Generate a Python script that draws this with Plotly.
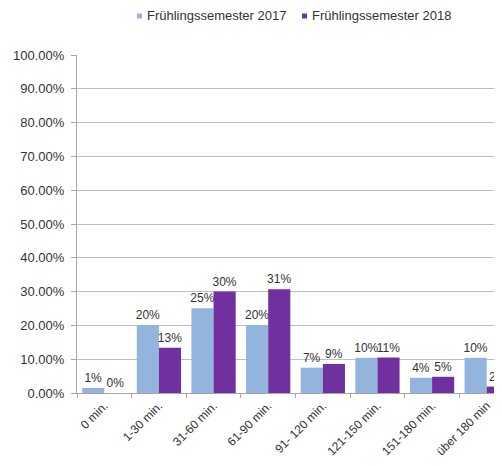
import plotly.graph_objects as go

categories = ["0 min.", "1-30 min.", "31-60 min.", "61-90 min.", "91- 120 min.",
              "121-150 min.", "151-180 min.", "über 180 min"]
values_2017 = [1.5, 20.1, 25.1, 20.1, 7.5, 10.4, 4.5, 10.4]
values_2018 = [0.0, 13.4, 30.0, 30.7, 8.6, 10.5, 4.8, 1.9]
labels_2017 = ["1%", "20%", "25%", "20%", "7%", "10%", "4%", "10%"]
labels_2018 = ["0%", "13%", "30%", "31%", "9%", "11%", "5%", "2%"]
series_names = ["Frühlingssemester 2017", "Frühlingssemester 2018"]
y_ticks = [0, 10, 20, 30, 40, 50, 60, 70, 80, 90, 100]
y_ticktext = ["0.00%", "10.00%", "20.00%", "30.00%", "40.00%", "50.00%",
              "60.00%", "70.00%", "80.00%", "90.00%", "100.00%"]

font_fam = "Liberation Sans, Arial, sans-serif"
txt_col = "#333333"
col_2017 = "#93b4dc"
col_2018 = "#7030a0"

# page body has an 8px margin: compensate
L, T, W, H = 69, 47, 502, 466
PW = 425
PH = 338
R = W - L - PW
B = H - T - PH

fig = go.Figure()
fig.add_trace(go.Bar(
    name=series_names[0], x=categories, y=values_2017,
    marker=dict(color=col_2017, line=dict(width=0)),
    text=labels_2017, textposition="outside", showlegend=False,
    textfont=dict(family=font_fam, size=12, color=txt_col),
))
fig.add_trace(go.Bar(
    name=series_names[1], x=categories, y=values_2018,
    marker=dict(color=col_2018, line=dict(width=0)),
    text=labels_2018, textposition="outside", showlegend=False,
    textfont=dict(family=font_fam, size=12, color=txt_col),
))

def px_x(p):
    return (p - L) / PW

def px_y(p):
    return 1 + (T - p) / PH

# manual legend (small square markers as in the reference)
legend_items = [(129, 137, col_2017, series_names[0]), (294, 302, col_2018, series_names[1])]
shapes = []
annotations = []
for mx, tx, col, name in legend_items:
    shapes.append(dict(type="rect", xref="paper", yref="paper",
                       x0=px_x(mx), x1=px_x(mx + 5), y0=px_y(10.5), y1=px_y(5.5),
                       fillcolor=col, line=dict(width=0)))
    annotations.append(dict(xref="paper", yref="paper", x=px_x(tx), y=px_y(8),
                            xanchor="left", yanchor="middle", showarrow=False,
                            text=name, font=dict(family=font_fam, size=13, color=txt_col)))

fig.update_layout(
    width=W, height=H,
    margin=dict(l=L, r=R, t=T, b=B, autoexpand=False),
    paper_bgcolor="white", plot_bgcolor="white",
    barmode="group", bargap=0.19, bargroupgap=0,
    font=dict(family=font_fam, size=12, color=txt_col),
    showlegend=False,
    shapes=shapes, annotations=annotations,
    uniformtext=dict(minsize=12, mode="show"),
)
fig.update_xaxes(
    range=[-0.5, 7.28], showgrid=False, showline=True, linecolor="#a6a6a6", linewidth=1,
    ticks="outside", tickson="boundaries", ticklen=4, tickcolor="#a6a6a6",
    tickangle=-45, tickfont=dict(size=12, color=txt_col), automargin=False,
)
fig.update_yaxes(
    range=[0, 100], tickvals=y_ticks, ticktext=y_ticktext,
    showgrid=True, gridcolor="#bfbfbf", gridwidth=1,
    showline=True, linecolor="#a6a6a6", linewidth=1,
    ticks="outside", ticklen=5, tickcolor="#a6a6a6", ticklabelstandoff=4,
    tickfont=dict(size=13, color=txt_col), zeroline=False, automargin=False,
)

fig.write_html("out.html")
